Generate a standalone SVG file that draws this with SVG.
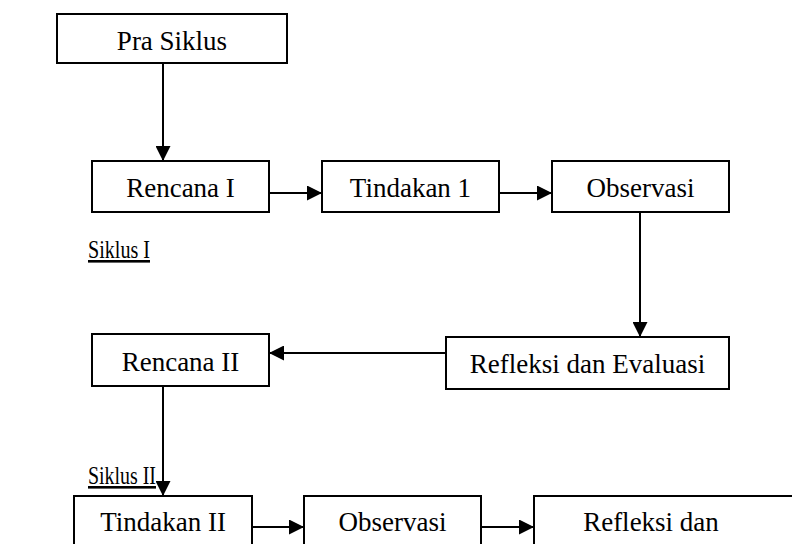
<svg xmlns="http://www.w3.org/2000/svg" width="792" height="544" viewBox="0 0 792 544">
<style>
.box{fill:#fff;stroke:#000;stroke-width:2}
.t{font-family:"Liberation Serif","Times New Roman",serif;font-size:27px;fill:#000;text-anchor:middle}
.lbl{font-family:"Liberation Serif","Times New Roman",serif;font-size:26px;fill:#000;text-decoration:underline}
.c{stroke:#000;stroke-width:2;fill:none;marker-end:url(#ah)}
</style>
<defs>
<marker id="ah" markerUnits="userSpaceOnUse" markerWidth="15" markerHeight="15" refX="15" refY="7.5" orient="auto">
<path d="M0,0 L15,7.5 L0,15 z" fill="#000"/>
</marker>
</defs>
<rect width="792" height="544" fill="#fff"/>
<g id="connectors">
<line class="c" x1="163" y1="63" x2="163" y2="161"/>
<line class="c" x1="269" y1="193" x2="322" y2="193"/>
<line class="c" x1="499" y1="193" x2="552" y2="193"/>
<line class="c" x1="640" y1="212" x2="640" y2="337"/>
<line class="c" x1="446" y1="353" x2="269" y2="353"/>
<line class="c" x1="163" y1="386" x2="163" y2="496"/>
<line class="c" x1="252" y1="527" x2="304" y2="527"/>
<line class="c" x1="481" y1="527" x2="534" y2="527"/>
</g>
<g id="pra-siklus"><rect class="box" x="57" y="14" width="230" height="49"/><text class="t" x="172" y="50">Pra Siklus</text></g>
<g id="rencana-1"><rect class="box" x="92" y="161" width="177" height="51"/><text class="t" x="180.5" y="197">Rencana I</text></g>
<g id="tindakan-1"><rect class="box" x="322" y="161" width="177" height="51"/><text class="t" x="410.5" y="197">Tindakan 1</text></g>
<g id="observasi-1"><rect class="box" x="552" y="161" width="177" height="51"/><text class="t" x="640.5" y="197">Observasi</text></g>
<g id="label-siklus-1"><text class="lbl" x="88" y="258" textLength="62" lengthAdjust="spacingAndGlyphs">Siklus I</text></g>
<g id="refleksi-1"><rect class="box" x="446" y="337" width="283" height="52"/><text class="t" x="587.5" y="373">Refleksi dan Evaluasi</text></g>
<g id="rencana-2"><rect class="box" x="92" y="334" width="177" height="52"/><text class="t" x="180.5" y="371">Rencana II</text></g>
<g id="label-siklus-2"><text class="lbl" x="88" y="484" textLength="68" lengthAdjust="spacingAndGlyphs">Siklus II</text></g>
<g id="tindakan-2"><rect class="box" x="74" y="496" width="178" height="70"/><text class="t" x="163" y="531">Tindakan II</text></g>
<g id="observasi-2"><rect class="box" x="304" y="496" width="177" height="70"/><text class="t" x="392.5" y="531">Observasi</text></g>
<g id="refleksi-2"><rect class="box" x="534" y="496" width="280" height="70"/><text class="t" x="651" y="531">Refleksi dan</text></g>
</svg>
